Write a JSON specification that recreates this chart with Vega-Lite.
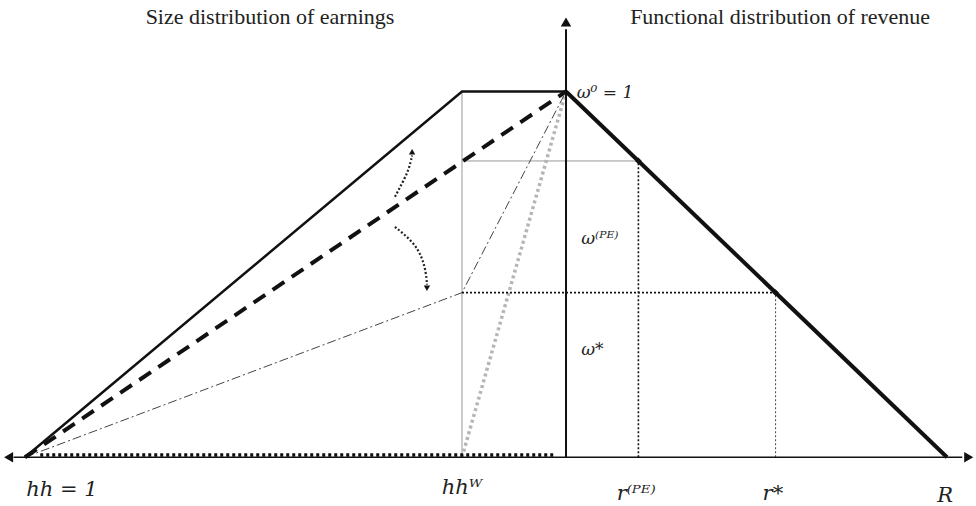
{
  "$schema": "https://vega.github.io/schema/vega-lite/v6.json",
  "width": 976,
  "height": 506,
  "autosize": {"type": "fit", "contains": "padding"},
  "padding": 0,
  "background": "white",
  "config": {"view": {"stroke": null}},
  "datasets": {
    "lines": [
      {"g": "trap", "o": 0, "x": -1.42, "y": 0},
      {"g": "trap", "o": 1, "x": -0.273, "y": 1},
      {"g": "trap", "o": 2, "x": 0, "y": 1},
      {"g": "right", "o": 0, "x": 0, "y": 1},
      {"g": "right", "o": 1, "x": 1, "y": 0},
      {"g": "dash", "o": 0, "x": -1.42, "y": 0},
      {"g": "dash", "o": 1, "x": 0, "y": 1},
      {"g": "dashdot", "o": 0, "x": -1.42, "y": 0},
      {"g": "dashdot", "o": 1, "x": -0.273, "y": 0.45},
      {"g": "dashdot", "o": 2, "x": 0, "y": 1},
      {"g": "graydot", "o": 0, "x": -0.273, "y": 0},
      {"g": "graydot", "o": 1, "x": 0, "y": 1},
      {"g": "vhw", "o": 0, "x": -0.273, "y": 0},
      {"g": "vhw", "o": 1, "x": -0.273, "y": 1},
      {"g": "hpe", "o": 0, "x": -0.273, "y": 0.81},
      {"g": "hpe", "o": 1, "x": 0.19, "y": 0.81},
      {"g": "hstar", "o": 0, "x": -0.273, "y": 0.45},
      {"g": "hstar", "o": 1, "x": 0.55, "y": 0.45},
      {"g": "vpe", "o": 0, "x": 0.19, "y": 0},
      {"g": "vpe", "o": 1, "x": 0.19, "y": 0.81},
      {"g": "vstar", "o": 0, "x": 0.55, "y": 0},
      {"g": "vstar", "o": 1, "x": 0.55, "y": 0.45},
      {"g": "bottom", "o": 0, "x": -1.38, "y": 0.006},
      {"g": "bottom", "o": 1, "x": -0.03, "y": 0.006},
      {"g": "haxis", "o": 0, "x": -1.45, "y": 0},
      {"g": "haxis", "o": 1, "x": 1.04, "y": 0},
      {"g": "vaxis", "o": 0, "x": 0, "y": 0},
      {"g": "vaxis", "o": 1, "x": 0, "y": 1.17},
      {"g": "up", "o": 0, "x": -0.449, "y": 0.712},
      {"g": "up", "o": 1, "x": -0.428, "y": 0.753},
      {"g": "up", "o": 2, "x": -0.412, "y": 0.788},
      {"g": "up", "o": 3, "x": -0.404, "y": 0.825},
      {"g": "down", "o": 0, "x": -0.449, "y": 0.63},
      {"g": "down", "o": 1, "x": -0.402, "y": 0.59},
      {"g": "down", "o": 2, "x": -0.378, "y": 0.549},
      {"g": "down", "o": 3, "x": -0.367, "y": 0.503},
      {"g": "down", "o": 4, "x": -0.365, "y": 0.472}
    ],
    "heads": [
      {"k": "left", "x": -1.463, "y": 0},
      {"k": "right", "x": 1.057, "y": 0},
      {"k": "up", "x": 0, "y": 1.19},
      {"k": "cup", "x": -0.404, "y": 0.835},
      {"k": "cdown", "x": -0.365, "y": 0.462},
      {"k": "dia", "x": 0.19, "y": 0.81},
      {"k": "dia", "x": 0.55, "y": 0.45}
    ],
    "texts": [
      {"k": "title", "t": "Size distribution of earnings", "x": -0.777, "y": 1.204},
      {"k": "title", "t": "Functional distribution of revenue", "x": 0.562, "y": 1.204},
      {"k": "bot", "t": "hh = 1", "x": -1.323, "y": -0.09},
      {"k": "bot", "t": "hhᵂ", "x": -0.273, "y": -0.085},
      {"k": "bot", "t": "r⁽ᴾᴱ⁾", "x": 0.184, "y": -0.1},
      {"k": "bot", "t": "r*", "x": 0.543, "y": -0.1},
      {"k": "bot", "t": "R", "x": 0.995, "y": -0.105},
      {"k": "om", "t": "ω⁰ = 1", "x": 0.028, "y": 0.995},
      {"k": "om", "t": "ω⁽ᴾᴱ⁾", "x": 0.04, "y": 0.598},
      {"k": "om", "t": "ω*", "x": 0.04, "y": 0.293}
    ]
  },
  "encoding": {
    "x": {"field": "x", "type": "quantitative", "scale": {"domain": [-1.4856, 1.0761], "nice": false, "zero": false}, "axis": null},
    "y": {"field": "y", "type": "quantitative", "scale": {"domain": [-0.125, 1.25], "nice": false, "zero": false}, "axis": null}
  },
  "layer": [
    {"data": {"name": "lines"}, "transform": [{"filter": "datum.g === 'vhw' || datum.g === 'hpe'"}],
     "mark": {"type": "line", "color": "#999999", "strokeWidth": 1},
     "encoding": {"detail": {"field": "g"}, "order": {"field": "o"}}},
    {"data": {"name": "lines"}, "transform": [{"filter": "datum.g === 'graydot'"}],
     "mark": {"type": "line", "color": "#b5b5b5", "strokeWidth": 3.5, "strokeDash": [3, 3]},
     "encoding": {"order": {"field": "o"}}},
    {"data": {"name": "lines"}, "transform": [{"filter": "datum.g === 'dashdot'"}],
     "mark": {"type": "line", "color": "#444444", "strokeWidth": 1, "strokeDash": [9, 3, 2, 3]},
     "encoding": {"order": {"field": "o"}}},
    {"data": {"name": "lines"}, "transform": [{"filter": "datum.g === 'hstar' || datum.g === 'vpe'"}],
     "mark": {"type": "line", "color": "#111111", "strokeWidth": 1.6, "strokeDash": [2, 2]},
     "encoding": {"detail": {"field": "g"}, "order": {"field": "o"}}},
    {"data": {"name": "lines"}, "transform": [{"filter": "datum.g === 'vstar'"}],
     "mark": {"type": "line", "color": "#555555", "strokeWidth": 1.1, "strokeDash": [2, 2]},
     "encoding": {"order": {"field": "o"}}},
    {"data": {"name": "lines"}, "transform": [{"filter": "datum.g === 'bottom'"}],
     "mark": {"type": "line", "color": "#111111", "strokeWidth": 3.5, "strokeDash": [3, 3]},
     "encoding": {"order": {"field": "o"}}},
    {"data": {"name": "lines"}, "transform": [{"filter": "datum.g === 'up' || datum.g === 'down'"}],
     "mark": {"type": "line", "color": "#222222", "strokeWidth": 2.2, "strokeDash": [2, 2], "interpolate": "basis"},
     "encoding": {"detail": {"field": "g"}, "order": {"field": "o"}}},
    {"data": {"name": "lines"}, "transform": [{"filter": "datum.g === 'haxis'"}],
     "mark": {"type": "line", "color": "#111111", "strokeWidth": 1.5},
     "encoding": {"order": {"field": "o"}}},
    {"data": {"name": "lines"}, "transform": [{"filter": "datum.g === 'vaxis'"}],
     "mark": {"type": "line", "color": "#111111", "strokeWidth": 2},
     "encoding": {"order": {"field": "o"}}},
    {"data": {"name": "lines"}, "transform": [{"filter": "datum.g === 'trap'"}],
     "mark": {"type": "line", "color": "#111111", "strokeWidth": 2.5},
     "encoding": {"order": {"field": "o"}}},
    {"data": {"name": "lines"}, "transform": [{"filter": "datum.g === 'right'"}],
     "mark": {"type": "line", "color": "#111111", "strokeWidth": 4},
     "encoding": {"order": {"field": "o"}}},
    {"data": {"name": "lines"}, "transform": [{"filter": "datum.g === 'dash'"}],
     "mark": {"type": "line", "color": "#111111", "strokeWidth": 4, "strokeDash": [14, 9]},
     "encoding": {"order": {"field": "o"}}},
    {"data": {"name": "heads"}, "transform": [{"filter": "datum.k === 'left'"}],
     "mark": {"type": "point", "shape": "triangle-left", "filled": true, "color": "#111111", "size": 110, "opacity": 1}},
    {"data": {"name": "heads"}, "transform": [{"filter": "datum.k === 'right'"}],
     "mark": {"type": "point", "shape": "triangle-right", "filled": true, "color": "#111111", "size": 110, "opacity": 1}},
    {"data": {"name": "heads"}, "transform": [{"filter": "datum.k === 'up'"}],
     "mark": {"type": "point", "shape": "triangle-up", "filled": true, "color": "#111111", "size": 110, "opacity": 1}},
    {"data": {"name": "heads"}, "transform": [{"filter": "datum.k === 'cup'"}],
     "mark": {"type": "point", "shape": "triangle-up", "filled": true, "color": "#111111", "size": 40, "opacity": 1}},
    {"data": {"name": "heads"}, "transform": [{"filter": "datum.k === 'cdown'"}],
     "mark": {"type": "point", "shape": "triangle-down", "filled": true, "color": "#111111", "size": 40, "opacity": 1}},
    {"data": {"name": "heads"}, "transform": [{"filter": "datum.k === 'dia'"}],
     "mark": {"type": "point", "shape": "diamond", "filled": true, "color": "#111111", "size": 45, "opacity": 1}},
    {"data": {"name": "texts"}, "transform": [{"filter": "datum.k === 'title'"}],
     "mark": {"type": "text", "font": "Liberation Serif", "fontSize": 22, "color": "#222222", "align": "center", "baseline": "middle"},
     "encoding": {"text": {"field": "t"}}},
    {"data": {"name": "texts"}, "transform": [{"filter": "datum.k === 'bot'"}],
     "mark": {"type": "text", "font": "DejaVu Serif", "fontStyle": "italic", "fontSize": 21, "color": "#222222", "align": "center", "baseline": "middle"},
     "encoding": {"text": {"field": "t"}}},
    {"data": {"name": "texts"}, "transform": [{"filter": "datum.k === 'om'"}],
     "mark": {"type": "text", "font": "DejaVu Serif", "fontStyle": "italic", "fontSize": 17, "color": "#222222", "align": "left", "baseline": "middle"},
     "encoding": {"text": {"field": "t"}}}
  ]
}
